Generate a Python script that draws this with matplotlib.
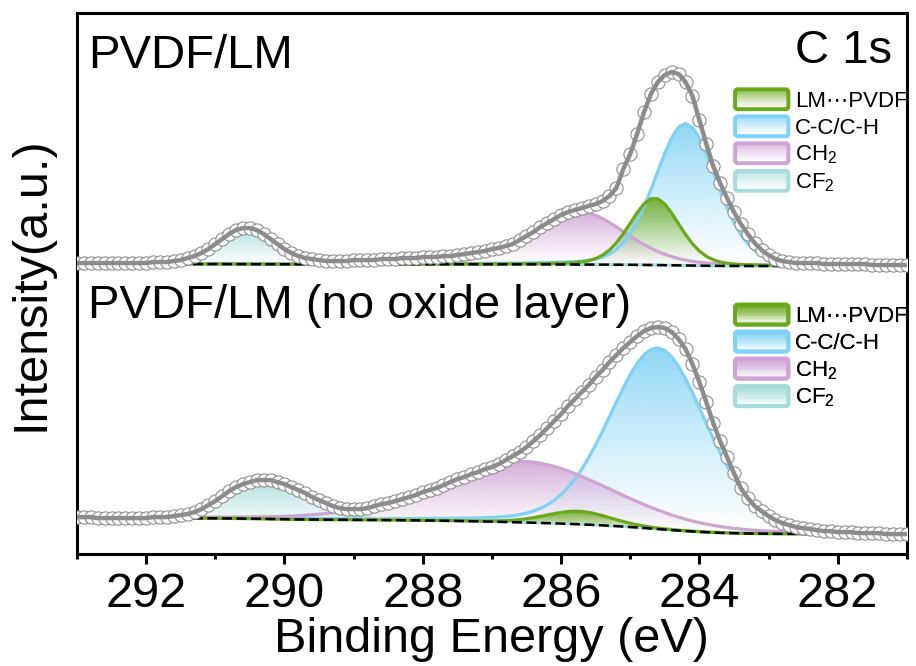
import numpy as np
import matplotlib
matplotlib.use("Agg")
import matplotlib.pyplot as plt
import matplotlib.colors as mcolors
from matplotlib.patches import Patch, Rectangle, FancyBboxPatch
from matplotlib.legend_handler import HandlerBase
from matplotlib.ticker import MultipleLocator

plt.rcParams["font.family"] = ["Liberation Sans", "DejaVu Sans"]
plt.rcParams["mathtext.fontset"] = "custom"
plt.rcParams["mathtext.rm"] = "Liberation Sans"

# binding energy grid (eV), 293 -> 281 in 0.1 eV steps
energy = np.linspace(293.0, 281.0, 121)

# measured C 1s intensity (a.u., stacked offsets included)
raw_top = [
    291, 291, 291, 291, 291, 291, 291, 291, 291, 291, 291, 292, 292, 292, 293, 294,
    296, 298, 301, 305, 310, 315, 320, 324, 326, 326, 324, 320, 315, 310, 305, 301,
    298, 296, 295, 294, 293, 293, 293, 293, 294, 294, 294, 294, 295, 295, 295, 296,
    296, 296, 297, 297, 297, 298, 298, 299, 300, 301, 302, 303, 305, 306, 308, 310,
    314, 318, 322, 327, 331, 335, 339, 342, 344, 346, 348, 350, 353, 358, 366, 385,
    400, 420, 442, 460, 472, 479, 482, 480, 472, 458, 434, 410, 388, 371, 356, 342,
    330, 320, 311, 304, 299, 295, 293, 292, 291, 291, 291, 291, 290, 290, 290, 290,
    290, 290, 290, 289, 289, 289, 289, 289, 289,
]
raw_bot = [
    37, 37, 37, 36, 36, 36, 36, 36, 36, 36, 36, 37, 37, 37, 38, 39,
    40, 42, 45, 49, 53, 58, 63, 67, 70, 72, 74, 74, 74, 72, 70, 67,
    64, 61, 57, 54, 51, 48, 46, 45, 45, 45, 46, 48, 50, 51, 53, 55,
    57, 59, 62, 64, 66, 69, 72, 75, 77, 80, 82, 85, 87, 90, 94, 98,
    102, 107, 113, 119, 126, 133, 140, 148, 155, 162, 169, 177, 184, 192, 199, 206,
    212, 218, 223, 226, 227, 226, 222, 215, 205, 190, 172, 152, 131, 113, 97, 81,
    66, 56, 48, 43, 38, 34, 31, 29, 27, 26, 25, 24, 23, 23, 22, 22,
    22, 21, 21, 21, 21, 20, 20, 20, 20,
]

labels = ["LM\u22efPVDF", "C-C/C-H", r"CH$_\mathregular{2}$", r"CF$_\mathregular{2}$"]
colors = ["#6aa81c", "#7fd1f5", "#cfa3d4", "#a6dcdc"]

# fitted peaks: LM...PVDF, C-C/C-H, CH2, CF2
top_centers = [284.65, 284.2, 285.75, 290.55]
top_heights = [67, 142, 53, 36]
top_fwhm = [0.85, 1.05, 1.6, 0.95]
top_base = [290, 288]          # background at 293 eV / 281 eV

bot_centers = [285.75, 284.6, 286.55, 290.3]
bot_heights = [13, 181, 61, 40]
bot_fwhm = [1.1, 1.65, 2.95, 1.3]
bot_base = [36, 20]


def peak(x, c, h, w, mix=0.2):
    g = np.exp(-4 * np.log(2) * (x - c) ** 2 / w ** 2)
    l = 1 / (1 + 4 * (x - c) ** 2 / w ** 2)
    return h * ((1 - mix) * g + mix * l)


def shirley(x, comps, left, right):
    total = np.sum(comps, axis=0)
    cum = np.cumsum(total[::-1])[::-1]
    return right + (left - right) * cum / cum[0]


def gradient_fill(ax, x, base, top, color, zorder, amax=0.9):
    poly = ax.fill_between(x, base, top, facecolor="none", edgecolor="none")
    path = poly.get_paths()[0]
    rgba = np.zeros((256, 1, 4))
    rgba[:, 0, :3] = mcolors.to_rgb(color)
    rgba[:, 0, 3] = np.linspace(0, amax, 256) ** 1.2
    im = ax.imshow(rgba, extent=[x.max(), x.min(), base.min(), top.max()],
                   origin="lower", aspect="auto", zorder=zorder, interpolation="bilinear")
    im.set_clip_path(path, transform=ax.transData)


class GradHandler(HandlerBase):
    def create_artists(self, legend, orig_handle, xdescent, ydescent,
                       width, height, fontsize, trans):
        color = orig_handle.get_edgecolor()
        arts = []
        n = 14
        for i in range(n):
            a = 0.8 * ((i + 0.5) / n) ** 1.3
            arts.append(Rectangle((-xdescent, -ydescent + i * height / n), width, height / n,
                                  facecolor=color, alpha=a, edgecolor="none", transform=trans))
        arts.append(FancyBboxPatch((-xdescent, -ydescent), width, height,
                                   boxstyle="round,pad=0,rounding_size=2", fill=False,
                                   edgecolor=color, lw=2.8, transform=trans))
        return arts


def draw_spectrum(ax, raw, centers, heights, fwhm, base_lr, order):
    comps = [peak(energy, c, h, w) for c, h, w in zip(centers, heights, fwhm)]
    base = shirley(energy, comps, *base_lr)
    for k, i in enumerate(order):
        gradient_fill(ax, energy, base, base + comps[i], colors[i], zorder=2 + k)
        ax.plot(energy, base + comps[i], color=colors[i], lw=2.3, zorder=6 + k)
    ax.plot(energy, base, color="black", lw=1.8, ls=(0, (4, 1.8)), zorder=11)
    ax.plot(energy, raw, ls="none", marker="o", ms=9.5, mfc="white", mec="#8e8e8e",
            mew=0.8, zorder=12)
    ax.plot(energy, raw, color="#8c8c8c", lw=3.2, zorder=13)


fig = plt.figure(figsize=(9.16, 6.66), dpi=100)
ax = fig.add_axes([0.084, 0.168, 0.906, 0.8125])

draw_spectrum(ax, raw_top, top_centers, top_heights, top_fwhm, top_base, [2, 1, 3, 0])
draw_spectrum(ax, raw_bot, bot_centers, bot_heights, bot_fwhm, bot_base, [1, 2, 3, 0])

ax.set_xlim(293, 281)
ax.set_ylim(0, 541)
ax.set_yticks([])
ax.xaxis.set_major_locator(MultipleLocator(2))
ax.xaxis.set_minor_locator(MultipleLocator(1))
ax.tick_params(axis="x", which="major", length=7, width=2.2, labelsize=35, pad=6)
ax.tick_params(axis="x", which="minor", length=3.6, width=2.2)
for s in ax.spines.values():
    s.set_linewidth(2.2)

ax.set_xlabel("Binding Energy (eV)", fontsize=35, labelpad=0)
ax.set_ylabel("Intensity(a.u.)", fontsize=35, labelpad=17)

ax.text(0.013, 0.898, "PVDF/LM", transform=ax.transAxes, fontsize=34, va="baseline")
ax.text(0.982, 0.907, "C 1s", transform=ax.transAxes, fontsize=34, va="baseline", ha="right")
ax.text(0.013, 0.436, "PVDF/LM (no oxide layer)", transform=ax.transAxes, fontsize=34,
        va="baseline")

handles = [Patch(edgecolor=c, label=l) for c, l in zip(colors, labels)]
for anchor in [(0.793, 0.859), (0.793, 0.461)]:
    leg = ax.legend(handles=handles, loc="upper left", bbox_to_anchor=anchor,
                    frameon=False, fontsize=16, handlelength=2.4, handleheight=1.0,
                    labelspacing=0.2, handletextpad=0.3, borderpad=0, borderaxespad=0,
                    handler_map={Patch: GradHandler()})
    leg.set_zorder(20)
    ax.add_artist(leg)

fig.savefig("out.png", dpi=100)
